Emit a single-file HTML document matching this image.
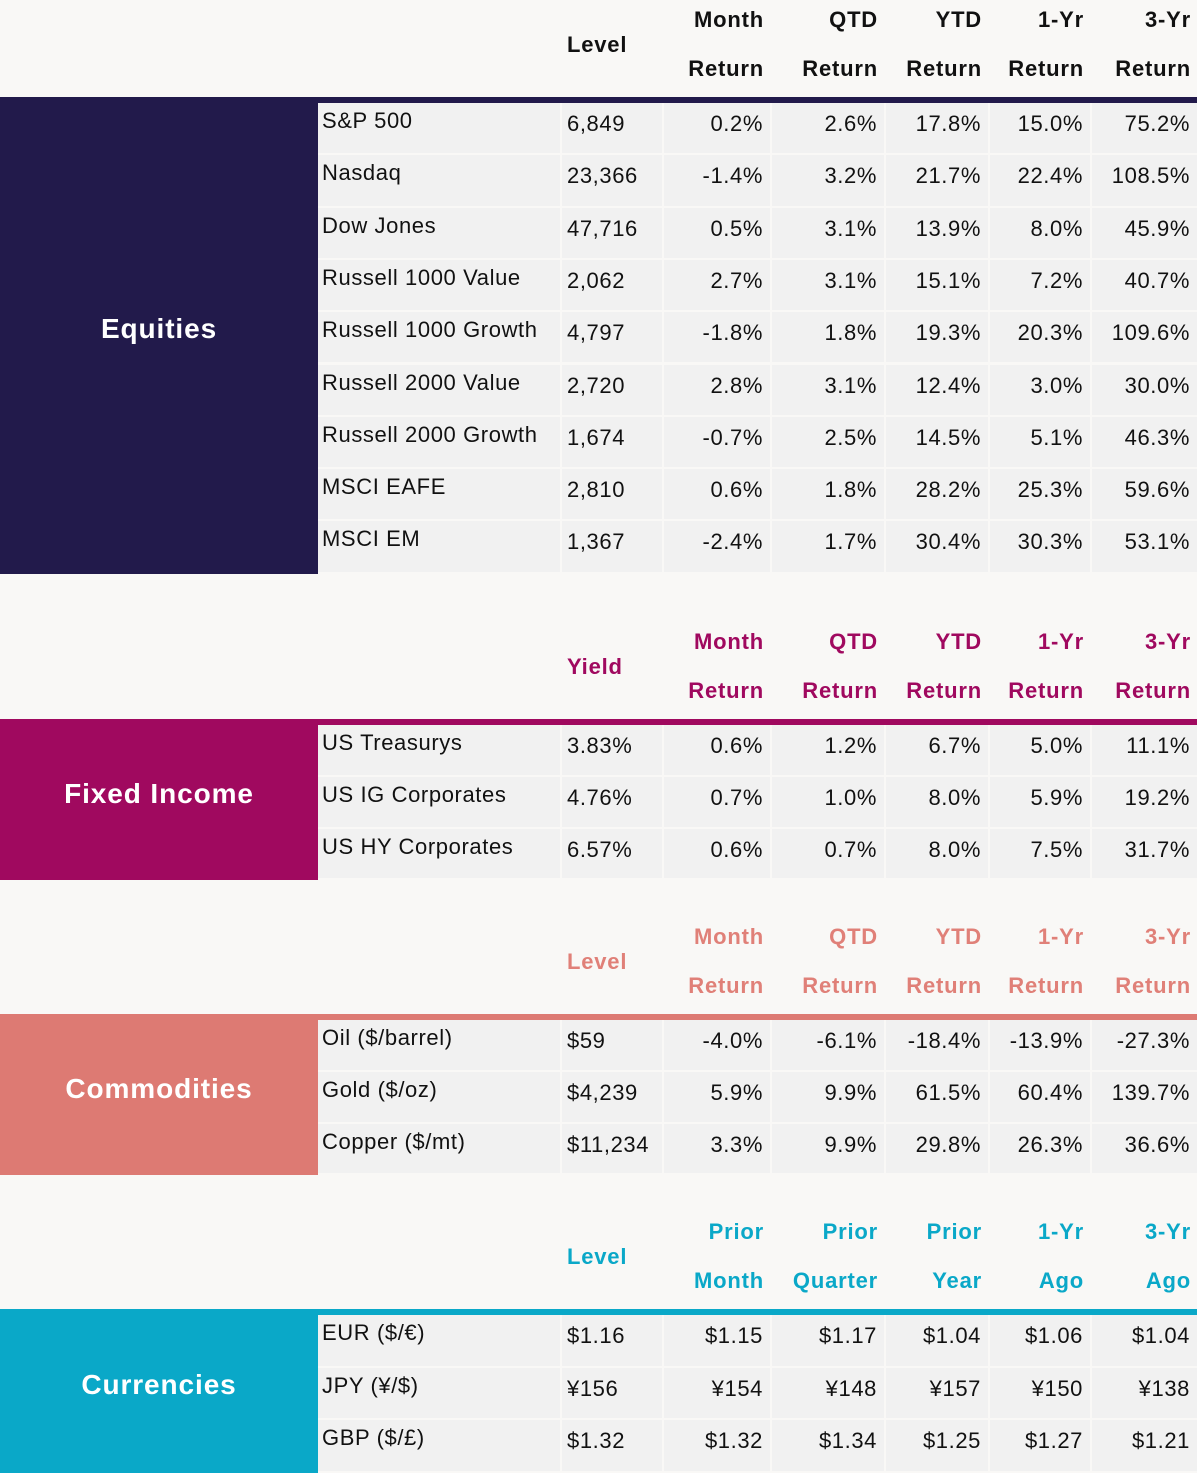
<!DOCTYPE html>
<html><head><meta charset="utf-8"><style>
body{margin:0;width:1197px;height:1473px;background:#f9f8f6;position:relative;overflow:hidden;font-family:"Liberation Sans",sans-serif;}
.a{position:absolute;box-sizing:border-box;}
.cell{background:#f1f1f1;}
.t{position:absolute;font-size:22px;color:#111;white-space:nowrap;line-height:26px;letter-spacing:0.6px;}
.h{position:absolute;font-size:22px;font-weight:bold;white-space:nowrap;line-height:26px;letter-spacing:0.8px;}
.cat{position:absolute;color:#fff;font-weight:bold;font-size:28px;letter-spacing:0.9px;display:flex;align-items:center;justify-content:center;padding-bottom:12px;box-sizing:border-box;}
</style></head><body>
<script>
const colL=[562,664,772,886,990,1092];
const colR=[662,770,884,988,1090,1197];
const sections=[
 {cat:"Equities",color:"#221a4b",hcolor:"#111",line:97,rows:9,rh:52.3,
  h1:["Level","Month","QTD","YTD","1-Yr","3-Yr"],h2:["","Return","Return","Return","Return","Return"],
  names:["S&P 500","Nasdaq","Dow Jones","Russell 1000 Value","Russell 1000 Growth","Russell 2000 Value","Russell 2000 Growth","MSCI EAFE","MSCI EM"],
  vals:[["6,849","0.2%","2.6%","17.8%","15.0%","75.2%"],["23,366","-1.4%","3.2%","21.7%","22.4%","108.5%"],["47,716","0.5%","3.1%","13.9%","8.0%","45.9%"],["2,062","2.7%","3.1%","15.1%","7.2%","40.7%"],["4,797","-1.8%","1.8%","19.3%","20.3%","109.6%"],["2,720","2.8%","3.1%","12.4%","3.0%","30.0%"],["1,674","-0.7%","2.5%","14.5%","5.1%","46.3%"],["2,810","0.6%","1.8%","28.2%","25.3%","59.6%"],["1,367","-2.4%","1.7%","30.4%","30.3%","53.1%"]]},
 {cat:"Fixed Income",color:"#a0095f",hcolor:"#a0095f",line:719,rows:3,rh:51.8,
  h1:["Yield","Month","QTD","YTD","1-Yr","3-Yr"],h2:["","Return","Return","Return","Return","Return"],
  names:["US Treasurys","US IG Corporates","US HY Corporates"],
  vals:[["3.83%","0.6%","1.2%","6.7%","5.0%","11.1%"],["4.76%","0.7%","1.0%","8.0%","5.9%","19.2%"],["6.57%","0.6%","0.7%","8.0%","7.5%","31.7%"]]},
 {cat:"Commodities",color:"#dd7a73",hcolor:"#e08078",line:1014,rows:3,rh:51.8,
  h1:["Level","Month","QTD","YTD","1-Yr","3-Yr"],h2:["","Return","Return","Return","Return","Return"],
  names:["Oil ($/barrel)","Gold ($/oz)","Copper ($/mt)"],
  vals:[["$59","-4.0%","-6.1%","-18.4%","-13.9%","-27.3%"],["$4,239","5.9%","9.9%","61.5%","60.4%","139.7%"],["$11,234","3.3%","9.9%","29.8%","26.3%","36.6%"]]},
 {cat:"Currencies",color:"#0aa8c8",hcolor:"#0aa8c8",line:1309,rows:3,rh:52.7,
  h1:["Level","Prior","Prior","Prior","1-Yr","3-Yr"],h2:["","Month","Quarter","Year","Ago","Ago"],
  names:["EUR ($/€)","JPY (¥/$)","GBP ($/£)"],
  vals:[["$1.16","$1.15","$1.17","$1.04","$1.06","$1.04"],["¥156","¥154","¥148","¥157","¥150","¥138"],["$1.32","$1.32","$1.34","$1.25","$1.27","$1.21"]]}
];
function mk(cls,css,txt){const e=document.createElement('div');e.className=cls;Object.assign(e.style,css);if(txt!==undefined)e.textContent=txt;document.body.appendChild(e);return e;}
sections.forEach((s,si)=>{
 const L=s.line, top=L+6;
 const slug=s.cat.toLowerCase().replace(/ /g,'-');
 s.h1.forEach((h,i)=>{
  if(i===0){const e=mk('h',{left:'567px',top:(L-65)+'px',color:s.hcolor},h);
   
   return;}
  const e1=mk('h',{right:(1197-colR[i]+6)+'px',top:(L-90)+'px',color:s.hcolor},h);
  
  
  const e2=mk('h',{right:(1197-colR[i]+6)+'px',top:(L-41)+'px',color:s.hcolor},s.h2[i]);
  
  
 });
 const ln=mk('a',{left:'0',top:L+'px',width:'1197px',height:'6px',background:s.color});
 
 
 const bottom=top+s.rows*s.rh;
 const c=mk('cat',{left:'0',top:L+'px',width:'318px',height:(bottom-L)+'px',background:s.color},s.cat);
 
 
 for(let r=0;r<s.rows;r++){
  const y=top+r*s.rh;
  const nc=mk('a cell',{left:'318px',top:y+'px',width:'242px',height:(s.rh-2)+'px'});
  
  
  const nt=mk('t',{left:'322px',top:(y+5)+'px'},s.names[r]);
  
  
  s.vals[r].forEach((v,i)=>{
   const cc=mk('a cell',{left:colL[i]+'px',top:y+'px',width:(colR[i]-colL[i])+'px',height:(s.rh-2)+'px'});
   
   
   const css={top:(y+8)+'px'};
   if(i===0)css.left='567px';else css.right=(1197-colR[i]+7)+'px';
   const vt=mk('t',css,v);
   
   
  });
 }
});
</script>
</body></html>
